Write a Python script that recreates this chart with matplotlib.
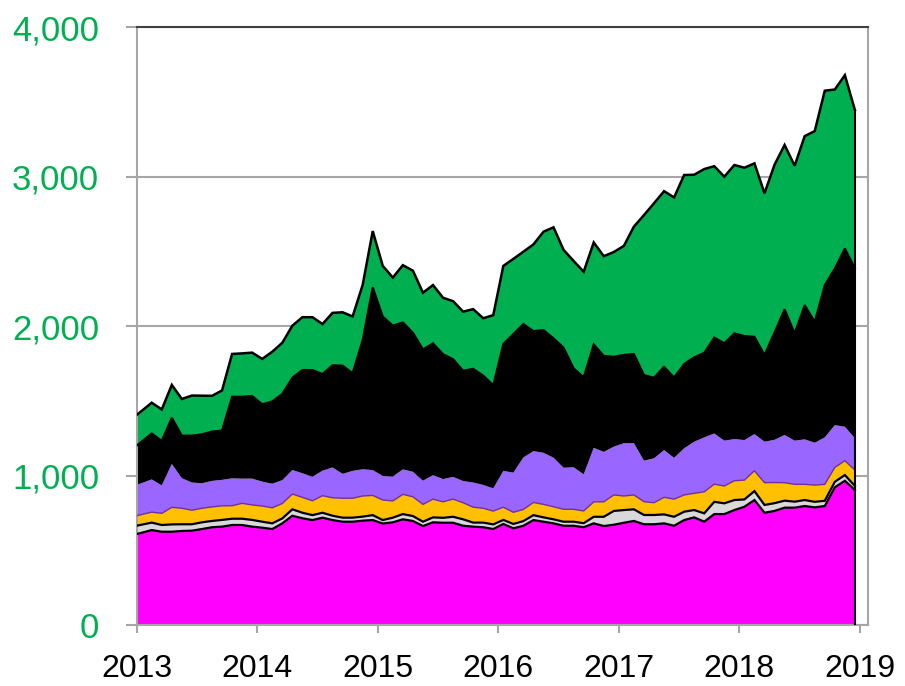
import numpy as np
import matplotlib
matplotlib.use('Agg')
import matplotlib.pyplot as plt

plt.rcParams['font.family'] = ['Liberation Sans', 'DejaVu Sans']

# monthly values, Dec 2012 .. Dec 2018 (stacked from bottom to top)
magenta = [600,
           617, 635, 624, 624, 629, 631, 642, 654, 658, 669, 669, 658,
           651, 642, 680, 731, 714, 702, 718, 702, 691, 691, 698, 702,
           679, 687, 707, 696, 662, 687, 684, 684, 664, 658, 654, 642,
           676, 647, 664, 702, 691, 680, 664, 664, 654, 680, 662, 671,
           684, 696, 674, 674, 680, 664, 702, 720, 691, 742, 742, 769,
           791, 836, 751, 763, 785, 785, 796, 787, 796, 921, 965, 903]
grey = [58,
        54, 50, 45, 49, 45, 43, 45, 42, 45, 42, 42, 45,
        40, 38, 33, 43, 37, 33, 33, 29, 27, 27, 27, 33,
        23, 31, 35, 33, 29, 33, 33, 40, 43, 27, 31, 31,
        27, 29, 31, 33, 29, 27, 27, 27, 27, 44, 62, 92,
        85, 78, 62, 62, 60, 60, 56, 49, 56, 82, 72, 67,
        49, 60, 52, 52, 47, 40, 40, 37, 35, 37, 38, 27]
orange = [66,
          68, 70, 78, 114, 107, 94, 94, 94, 94, 87, 103, 100,
          105, 104, 100, 102, 103, 96, 114, 120, 130, 130, 138, 132,
          134, 112, 132, 129, 116, 122, 107, 118, 111, 103, 96, 89,
          85, 78, 78, 85, 87, 84, 83, 83, 82, 100, 100, 107,
          94, 96, 89, 82, 114, 118, 112, 112, 144, 118, 116, 129,
          129, 136, 149, 138, 120, 116, 105, 112, 110, 96, 96, 107]
purple = [201,
          210, 219, 187, 290, 201, 185, 167, 174, 174, 183, 165, 176,
          163, 161, 156, 161, 161, 161, 167, 203, 163, 183, 179, 169,
          161, 163, 167, 167, 158, 161, 152, 149, 145, 165, 156, 152,
          243, 265, 348, 343, 345, 328, 278, 281, 245, 361, 334, 323,
          353, 346, 274, 297, 316, 276, 312, 345, 364, 339, 303, 279,
          268, 245, 274, 286, 319, 292, 301, 283, 314, 283, 227, 212]
black = [248,
         278, 308, 298, 310, 285, 314, 328, 330, 330, 546, 548, 553,
         518, 551, 577, 617, 691, 714, 647, 684, 724, 654, 865, 1224,
         1066, 1010, 983, 930, 879, 881, 836, 787, 738, 761, 731, 691,
         849, 928, 892, 803, 821, 799, 803, 662, 649, 692, 642, 602,
         591, 597, 573, 539, 557, 538, 564, 565, 566, 642, 652, 707,
         696, 651, 580, 718, 841, 718, 898, 809, 1019, 1048, 1193, 1137]
green = [205,
         205, 205, 210, 219, 245, 268, 258, 239, 268, 286, 290, 290,
         303, 332, 342, 348, 353, 353, 334, 350, 357, 379, 368, 375,
         339, 321, 383, 415, 379, 390, 377, 388, 395, 399, 384, 468,
         522, 502, 484, 580, 658, 742, 654, 718, 706, 682, 667, 700,
         729, 852, 1070, 1167, 1175, 1204, 1264, 1221, 1229, 1146, 1114, 1126,
         1126, 1160, 1082, 1122, 1099, 1121, 1130, 1276, 1300, 1197, 1159, 1059]

years = list(range(2013, 2020))
y_ticks = [0, 1000, 2000, 3000, 4000]

# mid-month positions in years, first one is Dec 2012
x = 2013 + (np.arange(len(magenta)) - 0.5) / 12

layers = [
    (magenta, '#FF00FF', 'black', 1.6),
    (grey, '#D9D9D9', 'black', 1.6),
    (orange, '#FFC000', '#7030A0', 1.0),
    (purple, '#9966FF', None, 0),
    (black, '#000000', 'black', 1.5),
    (green, '#00B050', 'black', 1.8),
]

fig = plt.figure(figsize=(9.05, 6.86), dpi=100)
ax = fig.add_axes([0.151, 0.0889, 0.808, 0.8717])

bottom = np.zeros(len(x))
tops = []
for vals, fc, ec, lw in layers:
    top = bottom + np.array(vals)
    ax.fill_between(x, bottom, top, facecolor=fc, edgecolor='none', linewidth=0, zorder=2)
    tops.append((top, ec, lw))
    bottom = top

# outlines on top of the fills
for top, ec, lw in tops:
    if ec is not None:
        ax.plot(x, top, color=ec, linewidth=lw, zorder=3, solid_joinstyle='miter')
ax.vlines(x[-1], 0, bottom[-1], color='black', linewidth=1.5, zorder=3)

ax.set_xlim(2013, 2019.066)
ax.set_ylim(0, 4000)
ax.set_xticks(years)
ax.set_xticklabels([str(y) for y in years])
ax.set_yticks(y_ticks)
ax.set_yticklabels([f'{v:,}' for v in y_ticks])

ax.set_axisbelow(True)
ax.yaxis.grid(True, color='#A6A6A6', linewidth=1.5)

for side in ['left', 'bottom', 'right']:
    ax.spines[side].set_color('#A6A6A6')
    ax.spines[side].set_linewidth(1.5)
ax.spines['top'].set_color('#404040')
ax.spines['top'].set_linewidth(1.5)

ax.tick_params(axis='y', colors='#A6A6A6', labelcolor='#00B050', labelsize=25,
               length=8, width=1.5, pad=19)
ax.tick_params(axis='x', colors='#A6A6A6', labelcolor='black', labelsize=23,
               length=6, width=1.5, pad=15)

fig.savefig('out.png', dpi=100)
